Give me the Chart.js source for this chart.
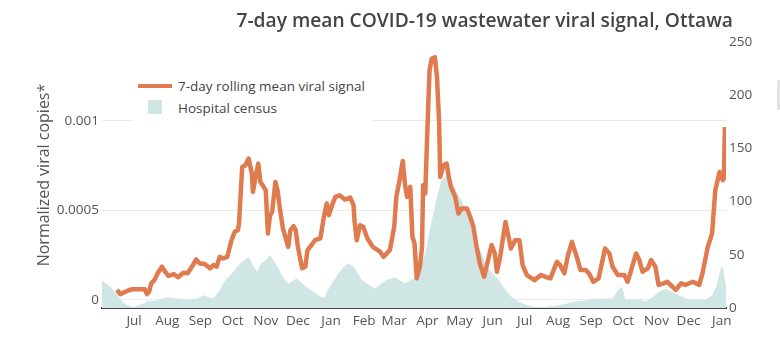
<!DOCTYPE html>
<html>
<head>
<meta charset="utf-8">
<script src="https://cdn.jsdelivr.net/npm/chart.js@4/dist/chart.umd.min.js"></script>
<style>
    html, body { margin: 0; padding: 0; background: #fff; }
    #wrap { position: relative; width: 780px; height: 338px; font-family: "Open Sans", sans-serif; }
    #title { position: absolute; right: 47px; top: 8px; line-height: 24px; font-size: 19.2px; font-weight: 600; color: #444; white-space: nowrap; }
    #legend { position: absolute; left: 133px; top: 72px; width: 240px; height: 52px; background: #fff; color: #444; font-size: 13.5px; }
    #legend .swatch-line { position: absolute; left: 5px; top: 12px; width: 34px; height: 4px; background: #e07a4f; }
    #legend .swatch-box { position: absolute; left: 15px; top: 28px; width: 14px; height: 14px; background: #cfe6e5; }
    #legend .txt { position: absolute; left: 45px; line-height: 18px; white-space: nowrap; }
    #modebar { position: absolute; left: 777px; top: 80px; width: 3px; height: 30px; background: #e3e3e3; border-radius: 2px 0 0 2px; }
</style>
</head>
<body>
<div id="wrap">
    <canvas id="signal-chart" width="780" height="338"></canvas>
    <div id="title">7-day mean COVID-19 wastewater viral signal, Ottawa</div>
    <div id="legend">
        <div class="swatch-line"></div><div class="txt" style="top:5px">7-day rolling mean viral signal</div>
        <div class="swatch-box"></div><div class="txt" style="top:27px">Hospital census</div>
    </div>
    <div id="modebar"></div>
</div>
<script>
/*** 資料 (x = days since 2021-06-01) ***/
const monthDays = [30, 61, 92, 122, 153, 183, 214, 245, 273, 304, 334, 365, 395, 426, 457, 487, 518, 548, 579];
const monthLabels = ['Jul', 'Aug', 'Sep', 'Oct', 'Nov', 'Dec', 'Jan', 'Feb', 'Mar', 'Apr', 'May', 'Jun',
                     'Jul', 'Aug', 'Sep', 'Oct', 'Nov', 'Dec', 'Jan'];
const leftTicks = [0, 0.0005, 0.001];
const rightTicks = [0, 50, 100, 150, 200, 250];

const signalDays = [
    14, 17, 20, 24, 28, 40, 42, 44, 46, 49, 52, 56, 59, 62, 67, 71, 76, 80, 85, 88, 91, 96, 101, 104, 107, 110, 113, 117,
    121, 124, 127, 128, 131, 134, 137, 140, 141, 144, 146, 148, 151, 153, 155, 157, 159, 162, 164, 166, 169, 174, 176,
    179, 181, 183, 187, 190, 192, 195, 199, 204, 207, 210, 212, 215, 218, 222, 227, 232, 235,
    236, 238, 241, 244, 248, 253, 260, 263, 269, 273, 275, 278, 281, 283, 285, 288, 290, 292, 294, 297, 299, 300, 302,
    304, 306, 308, 311, 313, 315, 316, 319, 322, 324, 326, 330, 333, 336, 341, 344, 347, 350, 353, 357, 360, 364, 367,
    369, 372, 377, 382, 386, 390, 393, 397, 404, 410, 414, 419, 425, 428, 432, 435, 439, 444, 447, 452, 455, 459, 464,
    470, 474, 477, 482, 488, 491, 494, 499, 502, 505, 510, 513, 517, 520, 525, 528, 533, 536, 541, 545, 552, 558, 561,
    566, 570, 573, 577, 580, 581, 582
];
const signal = [
    0.000056, 0.000033, 0.000041, 0.000052, 0.000060, 0.000060, 0.000033, 0.000046, 0.000093, 0.000111, 0.000149,
    0.000186, 0.000158, 0.000134, 0.000145, 0.000127, 0.000152, 0.000149, 0.000195, 0.000227, 0.000205, 0.000201,
    0.000177, 0.000195, 0.000186, 0.000241, 0.000232, 0.000241,
    0.000334, 0.000381, 0.000390, 0.000428, 0.000743, 0.000753, 0.000790, 0.000706, 0.000604, 0.000706, 0.000762,
    0.000659, 0.000632, 0.000613, 0.000372, 0.000474, 0.000492, 0.000659, 0.000613, 0.000520, 0.000400, 0.000297,
    0.000390, 0.000412, 0.000390, 0.000297, 0.000177, 0.000186, 0.000279, 0.000301, 0.000334, 0.000344, 0.000455,
    0.000539, 0.000474, 0.000530, 0.000576, 0.000585, 0.000561, 0.000572, 0.000530,
    0.000436, 0.000334, 0.000418, 0.000409, 0.000344, 0.000297, 0.000269, 0.000241, 0.000279, 0.000409, 0.000576,
    0.000669, 0.000777, 0.000650, 0.000576, 0.000632, 0.000353, 0.000316, 0.000121, 0.000186, 0.000297, 0.000641,
    0.000595, 0.000948, 0.001282, 0.001347, 0.001356, 0.001245, 0.000985, 0.000687, 0.000753, 0.000762, 0.000687,
    0.000632, 0.000576, 0.000483, 0.000511, 0.000511, 0.000464, 0.000409, 0.000297, 0.000205, 0.000130, 0.000205,
    0.000307, 0.000260, 0.000158, 0.000241, 0.000436, 0.000288, 0.000334, 0.000334, 0.000195, 0.000139, 0.000111,
    0.000139, 0.000130, 0.000121, 0.000213, 0.000195, 0.000149, 0.000241, 0.000325, 0.000232, 0.000167, 0.000167,
    0.000149, 0.000102, 0.000121, 0.000288, 0.000260, 0.000186, 0.000139, 0.000139, 0.000102, 0.000158, 0.000260,
    0.000223, 0.000158, 0.000177, 0.000223, 0.000186, 0.000084, 0.000093, 0.000102, 0.000074, 0.000056, 0.000093,
    0.000084, 0.000102, 0.000084, 0.000149, 0.000297, 0.000372, 0.000613, 0.000715, 0.000669, 0.000678, 0.000966
];

const censusDays = [
    0, 8, 14, 19, 23, 29, 36, 42, 51, 61, 70, 79, 89, 95, 104, 110, 115, 121, 129, 137,
    141, 145, 149, 154, 157, 160, 165, 169, 174, 179, 182, 187, 193, 199, 205, 208, 211, 218, 224, 230,
    235, 243, 255, 265, 274, 283, 293, 302, 308, 313, 317, 322, 326, 331, 336, 341, 345, 350, 355, 358,
    365, 371, 377, 383, 389, 396, 405, 414, 424, 433, 442, 452, 461, 470, 477, 482, 486, 489, 496, 502,
    508, 514, 520, 527, 533, 539, 545, 552, 558, 564, 570, 574, 578, 580, 583
];
const census = [
    26, 20, 12, 6, 3, 1, 3, 6, 7, 10, 9, 8, 9, 12, 9, 17, 26, 32, 42, 48,
    40, 34, 42, 46, 50, 45, 37, 29, 23, 26, 28, 23, 18, 14, 10, 10, 17, 28, 37, 42,
    39, 26, 18, 26, 29, 23, 29, 51, 82, 104, 120, 124, 121, 110, 101, 88, 76, 60, 51, 42,
    32, 26, 17, 10, 6, 3, 1, 1, 2, 4, 6, 7, 9, 9, 9, 17, 20, 8, 8, 8,
    6, 10, 15, 18, 15, 12, 9, 8, 8, 8, 12, 20, 37, 39, 20
];

const ORANGE = '#e07a4f';
const TEAL = '#cfe6e5';
const TICK_FONT = { family: '"Open Sans", sans-serif', size: 13.5 };

/*** 圖表 ***/
const ctx = document.getElementById('signal-chart').getContext('2d');
const myChart = new Chart(ctx, {
    type: 'line',
    data: {
        datasets: [
            {
                label: '7-day rolling mean viral signal',
                data: signalDays.map((d, i) => ({ x: d, y: signal[i] })),
                yAxisID: 'y',
                borderColor: ORANGE,
                borderWidth: 4.5,
                borderJoinStyle: 'round',
                pointRadius: 0,
                tension: 0,
                fill: false
            },
            {
                label: 'Hospital census',
                data: censusDays.map((d, i) => ({ x: d, y: census[i] })),
                yAxisID: 'y1',
                backgroundColor: TEAL,
                borderWidth: 0,
                pointRadius: 0,
                tension: 0,
                fill: 'origin'
            }
        ]
    },
    options: {
        responsive: false,
        animation: false,
        layout: { padding: { top: 42 } },
        plugins: {
            legend: { display: false },
            tooltip: { enabled: false },
            title: { display: false }
        },
        scales: {
            x: {
                type: 'linear',
                min: 0,
                max: 583,
                afterBuildTicks: scale => { scale.ticks = monthDays.map(v => ({ value: v })); },
                afterFit: scale => { scale.height = 30; },
                ticks: {
                    autoSkip: false,
                    maxRotation: 0,
                    padding: 5,
                    color: '#555',
                    font: TICK_FONT,
                    callback: (value, index) => monthLabels[index]
                },
                grid: { display: false, drawTicks: false },
                border: { display: true, color: '#444', width: 2 }
            },
            y: {
                position: 'left',
                min: -0.0000447,
                max: 0.0014413,
                afterBuildTicks: scale => { scale.ticks = leftTicks.map(v => ({ value: v })); },
                afterFit: scale => { scale.width = 102; },
                ticks: {
                    padding: 3,
                    color: '#555',
                    font: TICK_FONT,
                    callback: value => String(value)
                },
                grid: { color: '#ebebeb', lineWidth: 1, drawTicks: false },
                border: { display: false },
                title: {
                    display: true,
                    text: 'Normalized viral copies*',
                    color: '#555',
                    font: { family: '"Open Sans", sans-serif', size: 16 },
                    padding: { top: 35, bottom: 0 }
                }
            },
            y1: {
                position: 'right',
                min: 0,
                max: 250,
                afterBuildTicks: scale => { scale.ticks = rightTicks.map(v => ({ value: v })); },
                afterFit: scale => { scale.width = 54; },
                ticks: {
                    padding: 3,
                    color: '#555',
                    font: TICK_FONT,
                    callback: value => String(value)
                },
                grid: { display: false, drawTicks: false },
                border: { display: false }
            }
        }
    }
});
</script>
</body>
</html>
